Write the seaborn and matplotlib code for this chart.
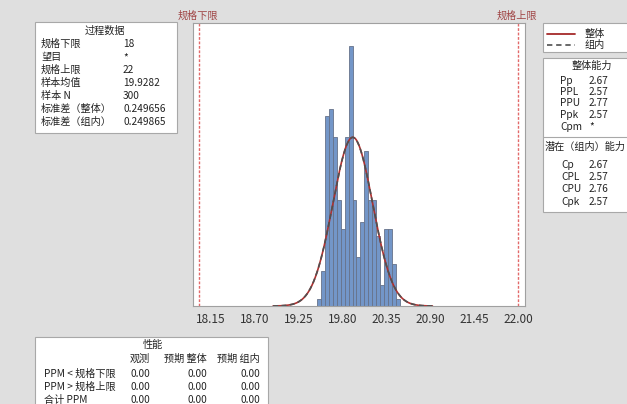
import numpy as np
import pandas as pd
import seaborn as sns
import matplotlib.pyplot as plt
from matplotlib.patches import Rectangle

sns.set_style("white")
plt.rcParams['font.family'] = ['Noto Sans CJK SC', 'DejaVu Sans']

W, H = 627, 404

# process data
lsl, usl = 18.0, 22.0
mean = 19.9282
sd_overall = 0.249656
sd_within = 0.249865
n_obs = 300
bin_width = 0.05

bin_centers = [19.50, 19.55, 19.60, 19.65, 19.70, 19.75, 19.80, 19.85, 19.90, 19.95, 20.00,
               20.05, 20.10, 20.15, 20.20, 20.25, 20.30, 20.35, 20.40, 20.45, 20.50]
counts = [1, 5, 27, 28, 24, 15, 11, 24, 37, 15, 7, 12, 22, 15, 15, 10, 3, 11, 11, 6, 1]
x_ticks = [18.15, 18.70, 19.25, 19.80, 20.35, 20.90, 21.45, 22.00]

process_labels = ["规格下限", "望目", "规格上限", "样本均值", "样本 N", "标准差（整体）", "标准差（组内）"]
process_values = ["18", "*", "22", "19.9282", "300", "0.249656", "0.249865"]
overall_labels = ["Pp", "PPL", "PPU", "Ppk", "Cpm"]
overall_values = ["2.67", "2.57", "2.77", "2.57", "*"]
within_labels = ["Cp", "CPL", "CPU", "Cpk"]
within_values = ["2.67", "2.57", "2.76", "2.57"]
perf_rows = ["PPM < 规格下限", "PPM > 规格上限", "合计 PPM"]
perf_cols = ["观测", "预期 整体", "预期 组内"]
perf_values = [["0.00", "0.00", "0.00"],
               ["0.00", "0.00", "0.00"],
               ["0.00", "0.00", "0.00"]]

red_dark = '#A52A2A'
gray_dark = '#404040'
box_edge = '#A8A8A8'
fs = 7.3

fig = plt.figure(figsize=(W / 100, H / 100), dpi=100, facecolor='#DFDFDF')

# overlay in pixel coordinates for the text boxes
bg = fig.add_axes([0, 0, 1, 1])
bg.set_xlim(0, W)
bg.set_ylim(H, 0)
bg.axis('off')


def box(x0, y0, x1, y1):
	bg.add_patch(Rectangle((x0, y0), x1 - x0, y1 - y0, fc='white', ec=box_edge, lw=0.8, clip_on=False))


def txt(x, y, s, ha='left', color='#222222'):
	bg.text(x, y, s, ha=ha, va='center', fontsize=fs, color=color)


# main histogram
ax = fig.add_axes([193 / W, 1 - 306 / H, 332 / W, 283 / H])
df = pd.DataFrame({"x": bin_centers, "n": counts})
sns.histplot(data=df, x="x", weights="n", bins=len(bin_centers),
             binrange=(bin_centers[0] - bin_width / 2, bin_centers[-1] + bin_width / 2),
             color='#7396C8', edgecolor='#66728A', linewidth=0.6, alpha=1, ax=ax)

xs = np.linspace(mean - 4 * sd_overall, mean + 4 * sd_overall, 400)
scale = n_obs * bin_width
y_overall = scale * np.exp(-0.5 * ((xs - mean) / sd_overall) ** 2) / (sd_overall * np.sqrt(2 * np.pi))
y_within = scale * np.exp(-0.5 * ((xs - mean) / sd_within) ** 2) / (sd_within * np.sqrt(2 * np.pi))
sns.lineplot(x=xs, y=y_overall, color='#B03030', lw=1.2, ax=ax)
ax.plot(xs, y_within, color='#505050', lw=1.2, ls=(0, (3, 2)))

for v in (lsl, usl):
	ax.axvline(v, color='#E26A6A', lw=1.0, ls=(0, (2, 1.2)))

ax.set_xlim(17.925, 22.088)
ax.set_ylim(0, 40.2)
ax.set_xticks(x_ticks)
ax.set_xticklabels(["%.2f" % t for t in x_ticks])
ax.set_yticks([])
ax.set(xlabel='', ylabel='')
ax.tick_params(axis='x', length=3, width=0.8, color='#909090', labelsize=8.5, labelcolor='#333333', pad=2)
for s in ax.spines.values():
	s.set_color('#A0A0A0')
	s.set_linewidth(0.8)

txt(198, 16, "规格下限", ha='center', color='#A04545')
txt(517, 16, "规格上限", ha='center', color='#A04545')

# process data box
box(35, 22, 177, 133)
txt(105, 31, "过程数据", ha='center')
for i, (lab, val) in enumerate(zip(process_labels, process_values)):
	txt(41, 44 + 13 * i, lab)
	txt(123, 44 + 13 * i, val)

# legend box
box(543, 23, 632, 52)
bg.plot([547, 575], [34, 34], color=red_dark, lw=1.3)
bg.plot([547, 575], [45, 45], color=gray_dark, lw=1.1, ls=(0, (3.5, 2.5)))
txt(585, 34, "整体")
txt(585, 45, "组内")

# capability box
box(543, 58, 632, 212)
txt(592, 66, "整体能力", ha='center')
for i, (lab, val) in enumerate(zip(overall_labels, overall_values)):
	txt(560, 80.5 + 11.5 * i, lab)
	txt(589, 80.5 + 11.5 * i, val)
bg.plot([543, 632], [137, 137], color=box_edge, lw=0.8)
txt(545, 147, "潜在（组内）能力")
for i, (lab, val) in enumerate(zip(within_labels, within_values)):
	txt(561, 164.5 + 12.5 * i, lab)
	txt(589, 164.5 + 12.5 * i, val)

# performance box
box(35, 337, 268, 410)
txt(153, 345, "性能", ha='center')
col_right = [150, 207, 260]
for c, lab in zip(col_right, perf_cols):
	txt(c, 359, lab, ha='right')
for i, row in enumerate(perf_rows):
	y = 374 + 13 * i
	txt(44, y, row)
	for c, val in zip(col_right, perf_values[i]):
		txt(c, y, val, ha='right')

plt.savefig("out.png", dpi=100, facecolor=fig.get_facecolor())
